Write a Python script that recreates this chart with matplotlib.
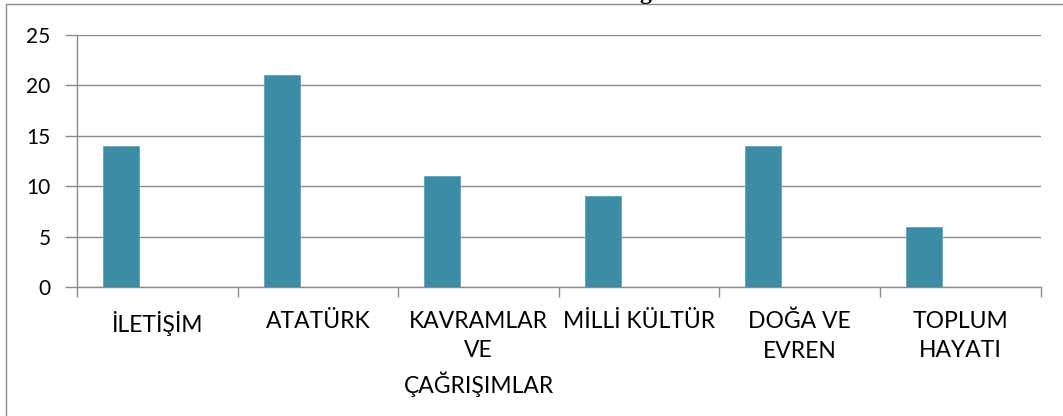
import numpy as np
import matplotlib.pyplot as plt
from matplotlib.lines import Line2D

plt.rcParams["font.family"] = ["Lato", "DejaVu Sans"]

# ── Data ─────────────────────────────────────────────────────────────────────
categories = ["İLETİŞİM", "ATATÜRK", "KAVRAMLAR\nVE\nÇAĞRIŞIMLAR",
              "MİLLİ KÜLTÜR", "DOĞA VE\nEVREN", "TOPLUM\nHAYATI"]
counts = [14, 21, 11, 9, 14, 6]
y_ticks = [0, 5, 10, 15, 20, 25]

BAR_C = "#3C8CA5"
GRID_C = "#8C8C8C"

fig = plt.figure(figsize=(10.63, 4.16), dpi=100)
ax = fig.add_axes([0.0724, 0.310, 0.9066, 0.606])

x = np.arange(len(categories))
# Excel clustered layout: first of three series, so the bar sits left of centre
offset = -0.226
ax.bar(x + offset, counts, width=0.224, color=BAR_C,
       edgecolor="#5FA3BA", linewidth=0.6, zorder=3)

ax.set_xlim(-0.5, len(categories) - 0.5)
ax.set_ylim(0, 25)
ax.set_yticks(y_ticks)
ax.yaxis.grid(True, color=GRID_C, lw=1.0, zorder=0)
ax.tick_params(axis="y", length=9, width=1.0, color=GRID_C,
               labelsize=15, pad=10)

# category labels centred in slots, ticks on slot boundaries
ax.set_xticks(np.arange(len(categories) + 1) - 0.5)
ax.set_xticklabels([])
ax.tick_params(axis="x", length=7, width=1.0, color=GRID_C)
ax.set_xticks(x, minor=True)
ax.set_xticklabels(categories, minor=True, fontsize=16.5, linespacing=1.5,
                   va="top")
ax.tick_params(axis="x", which="minor", length=0, pad=17)

for s in ["top", "right"]:
    ax.spines[s].set_visible(False)
for s in ["left", "bottom"]:
    ax.spines[s].set_color(GRID_C)
    ax.spines[s].set_linewidth(1.0)

# outer chart frame (cropped)
fig.add_artist(Line2D([6 / 1063, 6 / 1063], [0, 1 - 4 / 416],
                      transform=fig.transFigure, color=GRID_C, lw=1.0))
fig.add_artist(Line2D([6 / 1063, 1], [1 - 4 / 416, 1 - 4 / 416],
                      transform=fig.transFigure, color=GRID_C, lw=1.0))

# cut-off title remnant
fig.text(645 / 1063, 1 + 1.5 / 416, "g", fontsize=17, fontweight="bold",
         family="Liberation Serif", ha="center", va="baseline")

fig.savefig("out.png", dpi=100)
